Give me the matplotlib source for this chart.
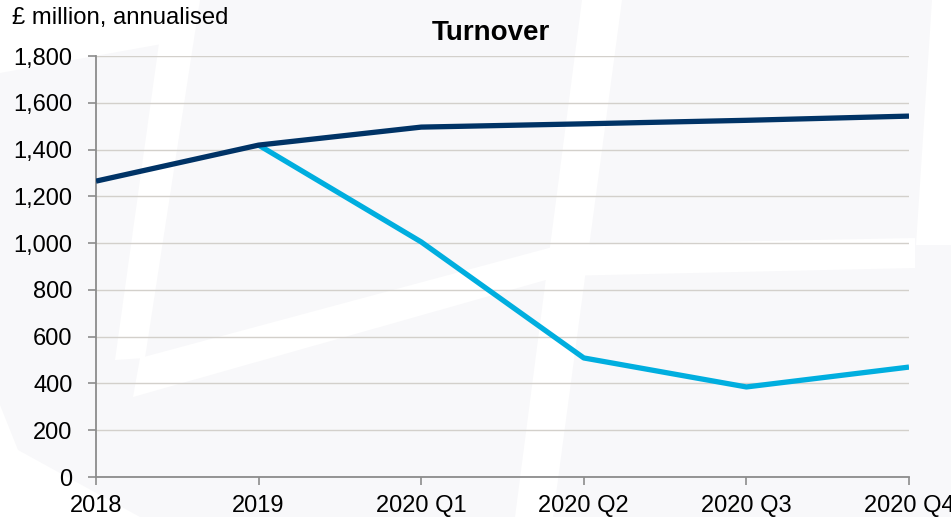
import matplotlib
matplotlib.use("Agg")
import matplotlib.pyplot as plt
from matplotlib.patches import Polygon

plt.rcParams['font.family'] = ['Liberation Sans', 'DejaVu Sans']

periods = ["2018", "2019", "2020 Q1", "2020 Q2", "2020 Q3", "2020 Q4"]
# dark line (pre-Covid trend) and light line (actual)
trend = [1265, 1419, 1496, 1510, 1525, 1543]
actual_periods = ["2019", "2020 Q1", "2020 Q2", "2020 Q3", "2020 Q4"]
actual = [1419, 1005, 509, 385, 470]
yticks = [0, 200, 400, 600, 800, 1000, 1200, 1400, 1600, 1800]

W, H = 951, 517
fig = plt.figure(figsize=(W / 100, H / 100), dpi=100)
fig.patch.set_facecolor("#f8f8fa")

# faint watermark shapes in the background (white areas)
def px(points):
    return [(x / W, 1 - y / H) for x, y in points]

shapes = [
    [(0, 0), (0, 73), (162, 44), (168, 0)],
    [(165, 0), (200, 0), (145, 358), (115, 360)],
    [(133, 397), (140, 358), (560, 245), (915, 238), (915, 268), (560, 276)],
    [(582, 0), (622, 0), (553, 517), (515, 517)],
    [(932, 0), (951, 0), (951, 245), (916, 245)],
    [(0, 405), (18, 450), (140, 517), (0, 517)],
]
for s in shapes:
    fig.patches.append(Polygon(px(s), closed=True, transform=fig.transFigure,
                               facecolor="white", edgecolor="none", zorder=-10))

ax = fig.add_axes([96 / W, 40 / H, 813 / W, 421 / H])
ax.set_facecolor("none")

x_all = list(range(len(periods)))
x_act = [periods.index(p) for p in actual_periods]

ax.plot(x_act, actual, color="#00aedf", linewidth=3.8, solid_capstyle="butt", zorder=3)
ax.plot(x_all, trend, color="#003366", linewidth=3.8, solid_capstyle="butt", zorder=4)

ax.set_xlim(0, 5)
ax.set_ylim(0, 1800)
ax.set_xticks(x_all)
ax.set_xticklabels(periods)
ax.set_yticks(yticks)
ax.set_yticklabels([f"{v:,}" for v in yticks])

ax.grid(axis="y", color="#d3d0cb", linewidth=1.0)
ax.set_axisbelow(True)
for side in ["top", "right"]:
    ax.spines[side].set_visible(False)
for side in ["left", "bottom"]:
    ax.spines[side].set_color("#8c8c8c")
    ax.spines[side].set_linewidth(1.3)

ax.tick_params(axis="y", length=6, width=1.2, color="#8c8c8c", pad=11, labelsize=17)
ax.tick_params(axis="x", length=6, width=1.2, color="#8c8c8c", pad=7, labelsize=17)

fig.text(12 / W, 1 - 18 / H, "£ million, annualised", fontsize=17.2, ha="left", va="center")
fig.text(491 / W, 1 - 33 / H, "Turnover", fontsize=20, fontweight="bold", ha="center", va="center")

fig.savefig("out.png", dpi=100, facecolor=fig.get_facecolor())
